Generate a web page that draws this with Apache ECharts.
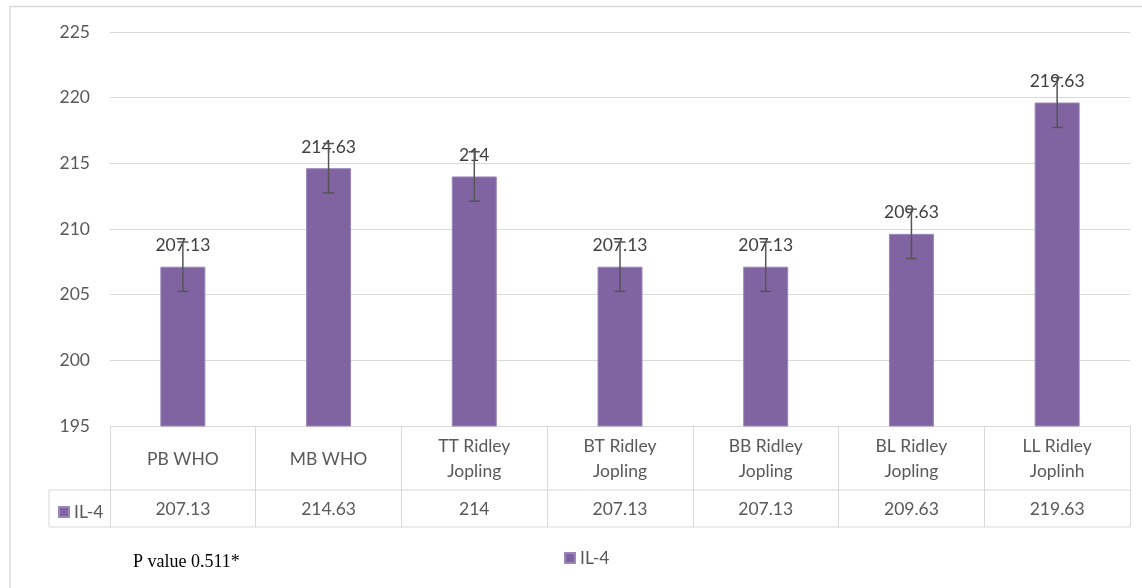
<!DOCTYPE html>
<html>
<head>
<meta charset="utf-8">
<script src="https://cdn.jsdelivr.net/npm/echarts@6/dist/echarts.min.js"></script>
<style>
html,body{margin:0;padding:0;background:#fff;}
#chart{width:1142px;height:588px;}
</style>
</head>
<body>
<div id="chart"></div>
<script>
const categories = ['PB WHO', 'MB WHO', 'TT Ridley\nJopling', 'BT Ridley\nJopling', 'BB Ridley\nJopling', 'BL Ridley\nJopling', 'LL Ridley\nJoplinh'];
const values = [207.13, 214.63, 214, 207.13, 207.13, 209.63, 219.63];
const valueLabels = ['207.13', '214.63', '214', '207.13', '207.13', '209.63', '219.63'];
const errors = [1.88, 1.88, 1.88, 1.88, 1.88, 1.88, 1.9];
const yTicks = {min: 195, max: 225, interval: 5};
const seriesName = 'IL-4';
const noteText = 'P value 0.511*';

const FONT = 'Lato';
const FS = 17.5;
const TXT = '#595959';
const GRID = { left: 110, right: 12, top: 32, bottom: 162 };
const W = 1142, H = 588;
const tableLeft = 49;
const rowMid = 490, rowBottom = 527;

const chart = echarts.init(document.getElementById('chart'));

const errData = values.map((v, i) => [i, v - errors[i], v + errors[i]]);

const option = {
  animation: false,
  backgroundColor: '#fff',
  grid: GRID,
  legend: [
    { data: [seriesName], left: 53, top: 498, icon: 'rect', itemWidth: 10, itemHeight: 10, itemGap: 4,
      textStyle: { fontFamily: FONT, fontSize: FS, color: TXT }, selectedMode: false },
    { data: [seriesName], left: 559, top: 544, icon: 'rect', itemWidth: 10, itemHeight: 10, itemGap: 4,
      textStyle: { fontFamily: FONT, fontSize: FS, color: TXT }, selectedMode: false }
  ],
  xAxis: [
    {
      type: 'category', data: categories, position: 'bottom',
      axisLine: { show: true, lineStyle: { color: '#d9d9d9', width: 1 } },
      axisTick: { show: true, length: 101, inside: false, alignWithLabel: false, lineStyle: { color: '#d9d9d9' } },
      axisLabel: { margin: 33, verticalAlign: 'middle', fontFamily: FONT, fontSize: FS, color: TXT, lineHeight: 25, interval: 0 }
    },
    {
      type: 'category', data: valueLabels, position: 'bottom', gridIndex: 0,
      axisLine: { show: false }, axisTick: { show: false },
      axisLabel: { margin: 83, verticalAlign: 'middle', fontFamily: FONT, fontSize: FS, color: TXT, interval: 0 }
    }
  ],
  yAxis: {
    type: 'value', min: yTicks.min, max: yTicks.max, interval: yTicks.interval,
    axisLine: { show: false }, axisTick: { show: false },
    axisLabel: { margin: 20, fontFamily: FONT, fontSize: FS, color: TXT },
    splitLine: { lineStyle: { color: '#d9d9d9', width: 1 } }
  },
  series: [
    {
      name: seriesName, type: 'bar', data: values, barWidth: 45, xAxisIndex: 0,
      itemStyle: { color: '#8064a2', borderColor: '#9b86bb', borderWidth: 1 },
      label: { show: true, position: 'top', distance: 12, fontFamily: FONT, fontSize: FS, color: '#404040',
        formatter: p => valueLabels[p.dataIndex] },
      z: 2
    },
    {
      name: 'err', type: 'custom', xAxisIndex: 0, data: errData, z: 3,
      renderItem: function (params, api) {
        const x = api.value(0);
        const lo = api.coord([x, api.value(1)]);
        const hi = api.coord([x, api.value(2)]);
        const hw = 5.5;
        const st = { stroke: '#555555', lineWidth: 1.5 };
        return { type: 'group', children: [
          { type: 'line', shape: { x1: lo[0], y1: lo[1], x2: hi[0], y2: hi[1] }, style: st },
          { type: 'line', shape: { x1: lo[0] - hw, y1: lo[1], x2: lo[0] + hw, y2: lo[1] }, style: st },
          { type: 'line', shape: { x1: hi[0] - hw, y1: hi[1], x2: hi[0] + hw, y2: hi[1] }, style: st }
        ]};
      }
    }
  ],
  graphic: [
    { type: 'rect', shape: { x: 10, y: 6.5, width: W, height: H }, style: { fill: 'none', stroke: '#d9d9d9', lineWidth: 1.5 }, silent: true },
    { type: 'line', shape: { x1: tableLeft, y1: rowMid, x2: W - GRID.right, y2: rowMid }, style: { stroke: '#d9d9d9', lineWidth: 1 } },
    { type: 'line', shape: { x1: tableLeft, y1: rowBottom, x2: W - GRID.right, y2: rowBottom }, style: { stroke: '#d9d9d9', lineWidth: 1 } },
    { type: 'line', shape: { x1: tableLeft, y1: rowMid, x2: tableLeft, y2: rowBottom }, style: { stroke: '#d9d9d9', lineWidth: 1 } },
    { type: 'text', left: 133, top: 553, style: { text: noteText, font: '18px "Liberation Serif"', fill: '#000' } }
  ]
};
chart.setOption(option);
</script>
</body>
</html>
